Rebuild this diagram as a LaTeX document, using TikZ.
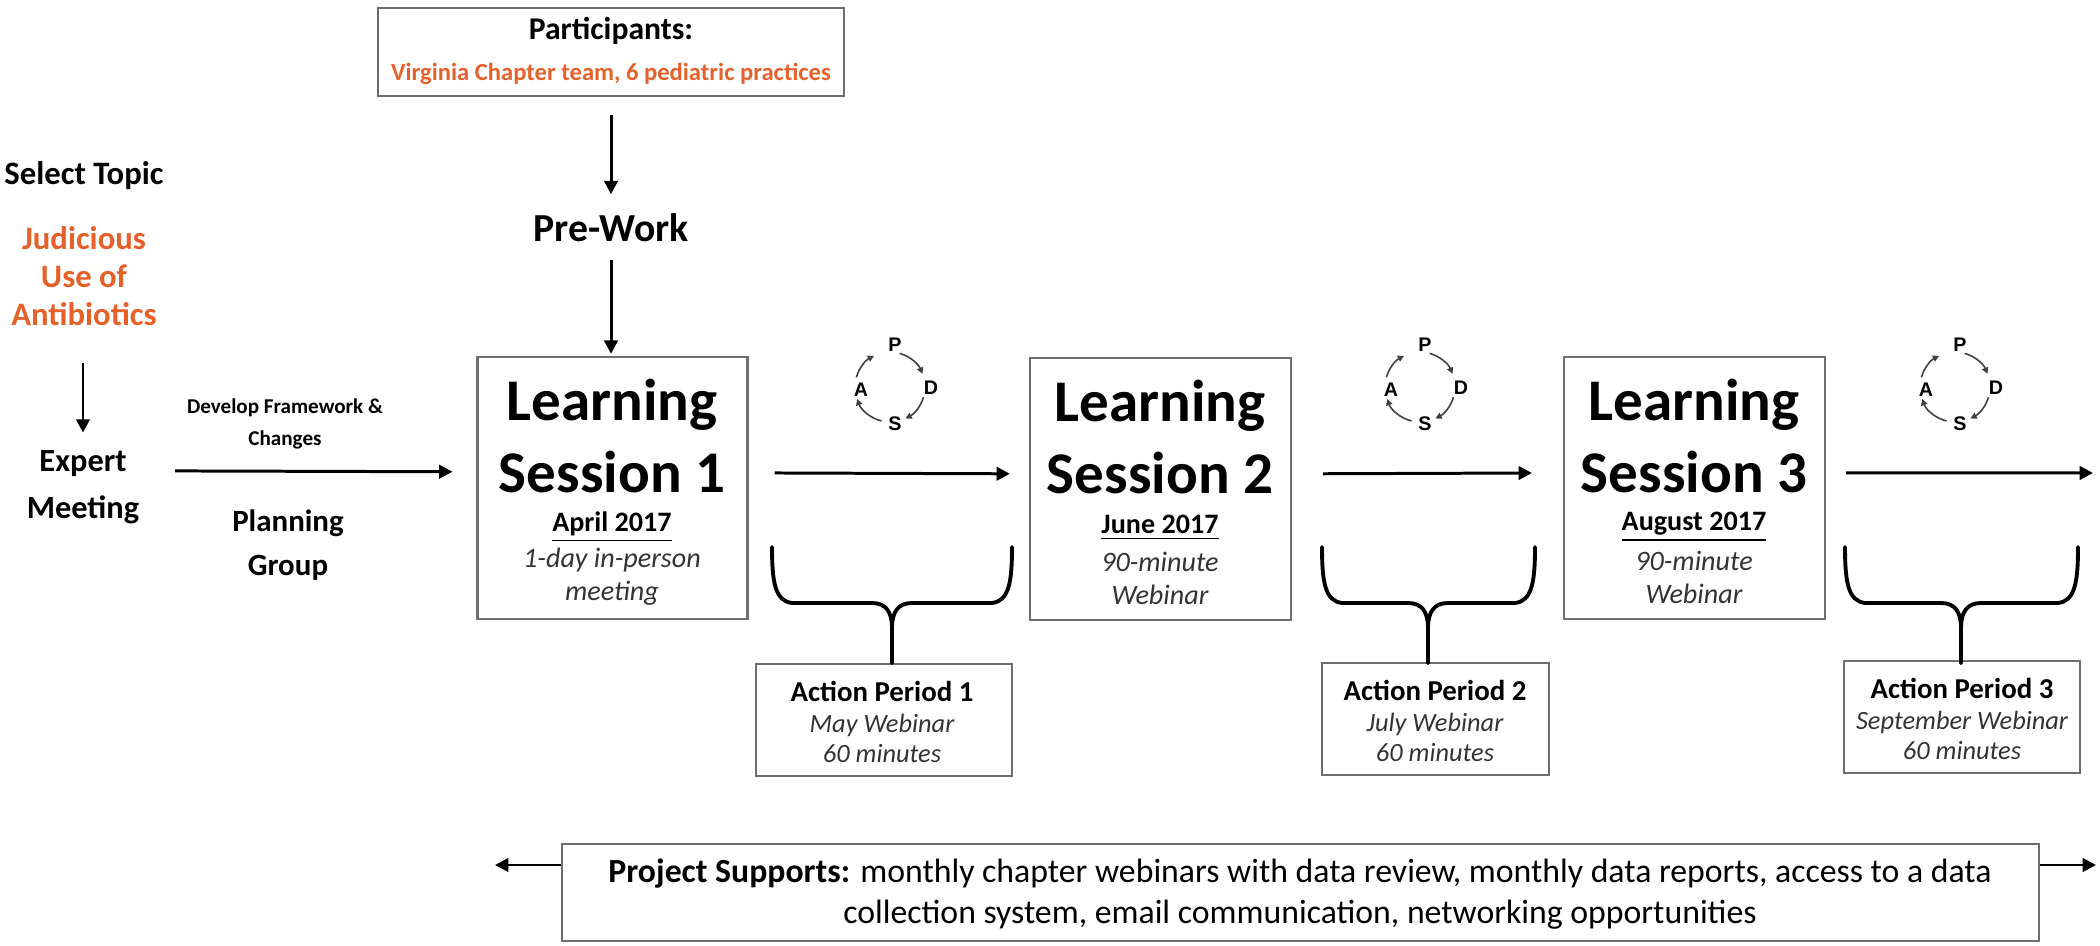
\documentclass[tikz,border=0pt]{standalone}
\usepackage{fontspec}
\setmainfont{Carlito}
\newfontfamily\cyclefont{Liberation Sans}
\usepackage{xcolor}
\usepackage{tikz}
\usetikzlibrary{arrows.meta}
\definecolor{topicorange}{RGB}{230,97,42}
\definecolor{boxgray}{RGB}{110,110,110}
\newcommand{\fsz}[2]{\fontsize{#1}{#2}\selectfont}
\newcommand{\pdsa}[2]{%
  \begin{scope}[shift={(#2,387)}]
  \draw[cyc] (-74:35) arc[start angle=-74,end angle=-22,radius=35];
  \draw[cyc] (17:35) arc[start angle=17,end angle=64,radius=35];
  \draw[cyc] (104:35) arc[start angle=104,end angle=160,radius=35];
  \draw[cyc] (-164:35) arc[start angle=-164,end angle=-117,radius=35];
  \node[letter] (#1p) at (5,-42) {P};
  \node[letter] (#1d) at (41,1) {D};
  \node[letter] (#1s) at (5,37) {S};
  \node[letter] (#1a) at (-29,3) {A};
  \end{scope}}
\newcommand{\actbrace}[3]{%
  \draw[brace] (#1,547) .. controls (#1,582) and (#1+3,601) .. (#1+20,603) -- (#2-20,603)
    .. controls (#2-6,603) and (#2,612) .. (#2,628) -- (#2,663);
  \draw[brace] (#3,547) .. controls (#3,582) and (#3-3,601) .. (#3-20,603) -- (#2+20,603)
    .. controls (#2+6,603) and (#2,612) .. (#2,628) -- (#2,663);}

\begin{document}
\begin{tikzpicture}[x=0.01cm,y=-0.01cm,
  box/.style={draw=boxgray,line width=0.6pt,inner sep=0pt},
  txt/.style={inner sep=0pt,align=center},
  flow/.style={-{Triangle[length=3.8pt,width=3.8pt]},line width=0.85pt},
  brace/.style={line width=1.1pt,line cap=round},
  cyc/.style={line width=0.45pt,draw=black!75,-{Triangle[length=1.8pt,width=1.8pt]}},
  letter/.style={inner sep=0pt,font=\cyclefont\bfseries\fsz{5.6}{6}}]
\useasboundingbox (0,0) rectangle (2100,946);

\node[box,minimum width=132.3pt,minimum height=25pt] (part) at (611,52) {};
\node[txt,font=\bfseries\fsz{9}{11}] (parttitle) at (611,31) {Participants:};
\node[txt,font=\bfseries\fsz{7}{8},text=topicorange] (partnames) at (611,74) {Virginia Chapter team, 6 pediatric practices};
\node[txt,font=\bfseries\fsz{11.3}{13}] (pre) at (611,228) {Pre-Work};

\node[txt,font=\bfseries\fsz{9.3}{11}] (select) at (84,176) {Select Topic};
\node[txt,font=\bfseries\fsz{9.3}{10.8},text=topicorange] (topic) at (84,276) {Judicious\\Use of\\Antibiotics};
\node[txt,font=\bfseries\fsz{9.2}{13.4}] (expert) at (83,487) {Expert\\Meeting};
\node[txt,font=\bfseries\fsz{6}{9.1}] (develop) at (285,424) {Develop Framework \&\\Changes};
\node[txt,font=\bfseries\fsz{8.8}{12.5}] (planning) at (288,545) {Planning\\Group};

\node[box,minimum width=76.8pt,minimum height=74.5pt] (ls1) at (612.5,488) {};
\node[txt,font=\bfseries\fsz{16.8}{20.3}] (ls1name) at (612,436) {Learning\\Session 1};
\node[txt,font=\bfseries\fsz{8}{9}] (ls1date) at (612,527) {\underline{April 2017}};
\node[txt,font=\itshape\fsz{8}{9.4},text=black!80] (ls1info) at (612,577) {1-day in-person\\meeting};

\node[box,minimum width=74.25pt,minimum height=74.5pt] (ls2) at (1160.5,489) {};
\node[txt,font=\bfseries\fsz{16.8}{20.3}] (ls2name) at (1160,437) {Learning\\Session 2};
\node[txt,font=\bfseries\fsz{8}{9}] (ls2date) at (1160,528) {\underline{June 2017}};
\node[txt,font=\itshape\fsz{8}{9.4},text=black!80] (ls2info) at (1160,578) {90-minute\\Webinar};

\node[box,minimum width=74.25pt,minimum height=74.5pt] (ls3) at (1694.5,488) {};
\node[txt,font=\bfseries\fsz{16.8}{20.3}] (ls3name) at (1694,436) {Learning\\Session 3};
\node[txt,font=\bfseries\fsz{8}{9}] (ls3date) at (1694,527) {\underline{August 2017}};
\node[txt,font=\itshape\fsz{8}{9.4},text=black!80] (ls3info) at (1694,577) {90-minute\\Webinar};

\node[box,minimum width=72.8pt,minimum height=31.6pt] (ap1) at (884,720) {};
\node[txt,font=\bfseries\fsz{8.2}{9}] (ap1name) at (882,691) {Action Period 1};
\node[txt,font=\itshape\fsz{7.5}{8.5},text=black!80] (ap1info) at (882,738) {May Webinar\\60 minutes};

\node[box,minimum width=64.6pt,minimum height=31.6pt] (ap2) at (1435.5,719) {};
\node[txt,font=\bfseries\fsz{8.2}{9}] (ap2name) at (1435,690) {Action Period 2};
\node[txt,font=\itshape\fsz{7.5}{8.5},text=black!80] (ap2info) at (1435,737) {July Webinar\\60 minutes};

\node[box,minimum width=67.1pt,minimum height=31.6pt] (ap3) at (1962,717) {};
\node[txt,font=\bfseries\fsz{8.2}{9}] (ap3name) at (1962,688) {Action Period 3};
\node[txt,font=\itshape\fsz{7.5}{8.5},text=black!80] (ap3info) at (1962,735) {September Webinar\\60 minutes};

\node[box,minimum width=420.2pt,minimum height=27.6pt] (supports) at (1300.5,892.5) {};
\node[txt,font=\fsz{9.6}{11.8}] (supportstext) at (1300,894) {\textbf{Project Supports:} monthly chapter webinars with data review, monthly data reports, access to a data\\collection system, email communication, networking opportunities};
\coordinate (supleft) at (495,865);
\coordinate (supright) at (2096,865);
\coordinate (flowend) at (2093,473);

\draw[flow,shorten <=5.1pt,shorten >=5.4pt] (part.south) -- (pre.north);
\draw[flow,shorten <=4.8pt,shorten >=0.6pt] (pre.south) -- (pre.south |- ls1.north);
\draw[flow,shorten <=10.5pt,shorten >=4.8pt] (expert.north |- topic.south) -- (expert.north);
\draw[flow,shorten <=10pt,shorten >=6.8pt] ([yshift=4.6pt]expert.east) -- ([yshift=4.6pt]ls1.west);
\draw[flow,shorten <=7.4pt,shorten >=5.4pt] ([yshift=4.3pt]ls1.east) -- ([yshift=4.3pt]ls2.west);
\draw[flow,shorten <=8.8pt,shorten >=8.8pt] ([yshift=4.3pt]ls2.east) -- ([yshift=4.3pt]ls3.west);
\draw[flow,shorten <=5.7pt] ([yshift=4.3pt]ls3.east) -- (flowend);
\draw[flow] (supports.west |- supleft) -- (supleft);
\draw[flow] (supports.east |- supright) -- (supright);

\actbrace{772}{892}{1012}
\actbrace{1322}{1428}{1535}
\actbrace{1845}{1961}{2078}

\pdsa{cyc1}{890}
\pdsa{cyc2}{1420}
\pdsa{cyc3}{1955}
\end{tikzpicture}
\end{document}
